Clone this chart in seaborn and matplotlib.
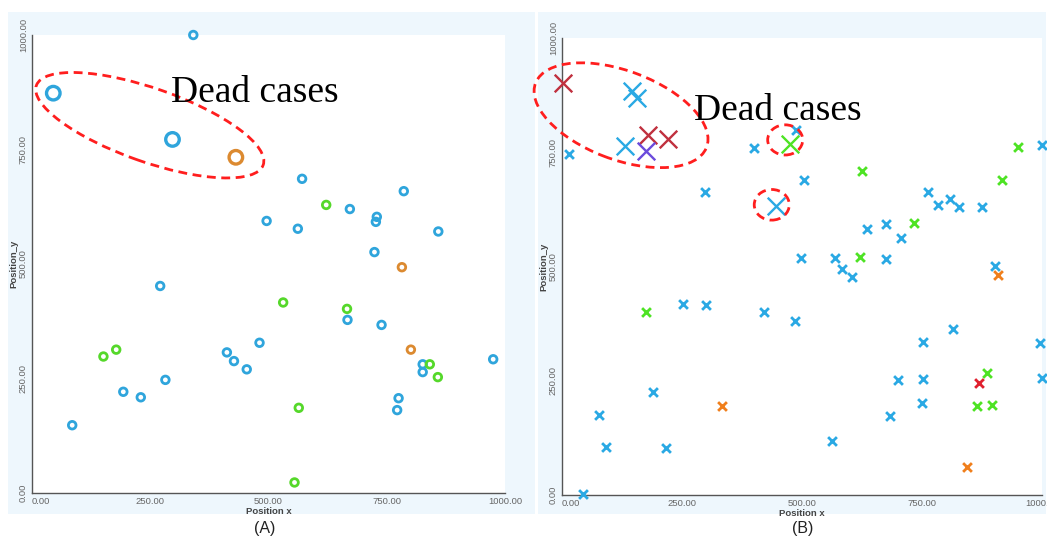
import matplotlib
matplotlib.use("Agg")
import matplotlib.pyplot as plt
from matplotlib.patches import Rectangle, Ellipse
import seaborn as sns
import pandas as pd

# ---------------- data ----------------
# Panel A (circles)
a_x = [45, 297, 431, 341, 571, 622, 672, 729, 727, 786, 496, 562, 859, 724, 782,
       271, 531, 666, 667, 739, 481, 412, 427, 454, 801, 151, 178, 975, 826, 841,
       826, 858, 282, 193, 230, 775, 772, 564, 85, 555]
a_y = [873, 772, 733, 1000, 686, 629, 620, 603, 592, 659, 594, 577, 571, 526, 493,
       452, 416, 402, 378, 367, 328, 307, 288, 270, 313, 298, 313, 292, 281, 281,
       264, 253, 247, 221, 209, 207, 181, 186, 148, 23]
a_cls = ["blue", "blue", "orange", "blue", "blue", "green", "blue", "blue", "blue", "blue",
         "blue", "blue", "blue", "blue", "orange", "blue", "green", "green", "blue", "blue",
         "blue", "blue", "blue", "blue", "orange", "green", "green", "blue", "blue", "green",
         "blue", "green", "blue", "blue", "blue", "blue", "blue", "green", "blue", "green"]
a_dead = [1, 1, 1] + [0] * 37

# Panel B (crosses)
b_x = [2, 145, 157, 131, 180, 221, 176, 474, 445,
       15, 400, 487, 298, 504, 626, 949, 1000, 916, 763, 784, 808, 828, 874, 734,
       635, 674, 706, 498, 569, 621, 674, 583, 605, 902, 909, 175, 253, 299, 421,
       486, 815, 753, 996, 699, 753, 999, 885, 868, 189, 333, 751, 864, 895, 77,
       683, 92, 217, 563, 844, 43]
b_y = [901, 883, 869, 764, 788, 778, 753, 768, 633,
       747, 760, 799, 662, 689, 710, 761, 765, 690, 662, 635, 647, 631, 631, 595,
       583, 593, 562, 519, 519, 521, 516, 494, 476, 501, 481, 400, 419, 416, 400,
       381, 363, 335, 332, 252, 253, 255, 266, 244, 226, 195, 202, 195, 198, 174,
       173, 105, 102, 118, 62, 2]
b_cls = ["darkred", "blue", "blue", "blue", "darkred", "darkred", "purple", "green", "blue",
         "blue", "blue", "blue", "blue", "blue", "green", "green", "blue", "green", "blue",
         "blue", "blue", "blue", "blue", "green", "blue", "blue", "blue", "blue", "blue",
         "green", "blue", "blue", "blue", "blue", "orange", "green", "blue", "blue", "blue",
         "blue", "blue", "blue", "blue", "blue", "blue", "blue", "green", "red", "blue",
         "orange", "blue", "green", "green", "blue", "blue", "blue", "blue", "blue",
         "orange", "blue"]
b_dead = [1] * 9 + [0] * 51

ticks = [0, 250, 500, 750, 1000]
tick_labels = ["0.00", "250.00", "500.00", "750.00", "1000.00"]
x_label = "Position x"
y_label = "Position_y"
annot_text = "Dead cases"
captions = ["(A)", "(B)"]

pal_a = {"blue": "#2fa5dc", "green": "#55d82a", "orange": "#dc8a30"}
pal_b = {"blue": "#2aa9e4", "green": "#4ee324", "orange": "#f07f1c",
         "darkred": "#c0303e", "purple": "#6b4bdc", "red": "#e0202e"}

# ---------------- figure ----------------
sns.set_theme(style="white")
plt.rcParams["font.family"] = ["Liberation Sans", "DejaVu Sans"]

W, H = 1047, 540
fig = plt.figure(figsize=(W / 100, H / 100), dpi=100)
fig.patch.set_facecolor("white")
bg = "#eef7fd"
fig.patches.append(Rectangle((8 / W, 1 - 514 / H), (535 - 8) / W, (514 - 12) / H,
                             transform=fig.transFigure, facecolor=bg, edgecolor="none", zorder=-10))
fig.patches.append(Rectangle((538 / W, 1 - 514 / H), (1046 - 538) / W, (514 - 12) / H,
                             transform=fig.transFigure, facecolor=bg, edgecolor="none", zorder=-10))

axA = fig.add_axes([32 / W, 1 - 493 / H, (505 - 32) / W, (493 - 35) / H])
axB = fig.add_axes([562 / W, 1 - 495 / H, (1042 - 562) / W, (495 - 38) / H])

dfA = pd.DataFrame({"x": a_x, "y": a_y, "cls": a_cls, "dead": a_dead})
dfB = pd.DataFrame({"x": b_x, "y": b_y, "cls": b_cls, "dead": b_dead})

for cls, col in pal_a.items():
    for dead, s, lw in [(0, 30, 2.0), (1, 95, 2.4)]:
        sub = dfA[(dfA.cls == cls) & (dfA.dead == dead)]
        if len(sub):
            sns.scatterplot(data=sub, x="x", y="y", ax=axA, marker="o", s=s,
                            facecolor="none", edgecolor=col, linewidth=lw,
                            clip_on=False, zorder=3)

for cls, col in pal_b.items():
    for dead, s, lw in [(0, 40, 2.0), (1, 160, 1.7)]:
        sub = dfB[(dfB.cls == cls) & (dfB.dead == dead)]
        if len(sub):
            sns.scatterplot(data=sub, x="x", y="y", ax=axB, marker="x", s=s,
                            color=col, linewidth=lw, clip_on=False, zorder=3)

red = "#ff1e1e"
dash = (0, (3.2, 2.0))
axA.add_patch(Ellipse((249, 803), 510, 160, angle=-20, fill=False, ec=red, lw=2.0,
                      ls=dash, clip_on=False, zorder=4))
axB.add_patch(Ellipse((123, 831), 383, 193, angle=-22, fill=False, ec=red, lw=2.0,
                      ls=dash, clip_on=False, zorder=4))
axB.add_patch(Ellipse((465, 777), 73, 66, fill=False, ec=red, lw=2.0,
                      ls=dash, clip_on=False, zorder=4))
axB.add_patch(Ellipse((437, 635), 73, 67, fill=False, ec=red, lw=2.0,
                      ls=dash, clip_on=False, zorder=4))

axA.text(472, 854, annot_text, family=["Liberation Serif", "DejaVu Serif"], fontsize=27,
         ha="center", va="baseline", color="black", zorder=5)
axB.text(449, 821, annot_text, family=["Liberation Serif", "DejaVu Serif"], fontsize=27,
         ha="center", va="baseline", color="black", zorder=5)

for ax in (axA, axB):
    ax.set_facecolor("white")
    ax.set_xlim(0, 1000)
    ax.set_ylim(0, 1000)
    ax.set_xticks(ticks)
    ax.set_yticks(ticks)
    ax.set_xticklabels(tick_labels, fontsize=6.8, color="#666666")
    ax.set_yticklabels(tick_labels, fontsize=6.8, color="#666666", rotation=90, va="center")
    ax.get_xticklabels()[0].set_ha("left")
    ax.tick_params(axis="both", direction="out", length=2.5, width=2.5, color="#222222",
                   pad=0.5)
    for side in ("top", "right"):
        ax.spines[side].set_visible(False)
    for side in ("left", "bottom"):
        ax.spines[side].set_color("#555555")
        ax.spines[side].set_linewidth(1.0)
    ax.set_xlabel(x_label, fontsize=6.8, fontweight="bold", color="#444444", labelpad=0.5)
    ax.set_ylabel(y_label, fontsize=6.8, fontweight="bold", color="#444444", labelpad=0.5)
    ax.grid(False)

fig.text(265 / W, 1 - 529 / H, captions[0], fontsize=11.5, ha="center", va="center", color="#222222")
fig.text(803 / W, 1 - 529 / H, captions[1], fontsize=11.5, ha="center", va="center", color="#222222")

fig.savefig("out.png", dpi=100, facecolor="white")
